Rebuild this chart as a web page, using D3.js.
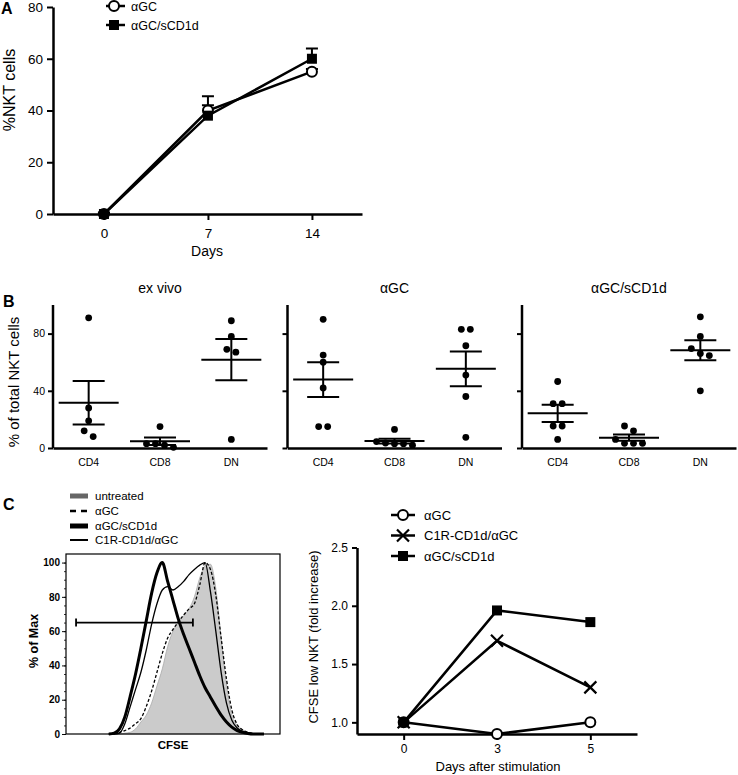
<!DOCTYPE html>
<html>
<head>
<meta charset="utf-8">
<script src="https://cdn.jsdelivr.net/npm/d3@7"></script>
<style>
  body { margin: 0; background: #fff; }
  svg { display: block; font-family: "Liberation Sans", Arial, Helvetica, sans-serif; }
</style>
</head>
<body>
<svg width="738" height="775"></svg>
<script>
// ---- Panel A: %NKT cells over days
const daysA = [0, 7, 14];
const aGCA = [0, 40, 55];
const aGCAerr = [0.5, 5.5, 1];
const sCD1dA = [0, 38, 60];
const sCD1dAerr = [0.5, 4, 4];
const yTicksA = [0, 20, 40, 60, 80];

// ---- Panel B: subsets, one array per cell type (CD4, CD8, DN)
const cellTypes = ["CD4", "CD8", "DN"];
const groupsB = ["ex vivo", "αGC", "αGC/sCD1d"];
const exVivoB = [[91, 28, 19, 12, 8], [15, 3, 2, 3, 0.5], [89, 78, 69, 67, 6]];
const aGCB = [[90, 65, 60, 42, 15, 15], [13, 4.5, 3.5, 2, 3, 3], [83, 83, 71.5, 51, 36, 7.5]];
const sCD1dB = [[46.5, 31, 31, 15.4, 15.4, 6], [15.4, 12, 6, 3.3, 3.3, 3.3], [91.7, 78, 69.5, 66, 64.6, 40]];
const yTicksB = [0, 40, 80];

// ---- Panel C left: CFSE histograms (% of max at each CFSE bin)
const cfseBins = [20, 22.5, 25, 27.5, 30, 32.5, 35, 37.5, 40, 42.5, 45, 47.5, 50, 52.5, 55,
                  57.5, 60, 62.5, 65, 67.5, 70, 72.5, 75, 77.5, 80, 82.5, 85, 87.5, 90, 92.5];
const untreatedH = [0, 0, 0, 0.5, 1, 3, 7, 11, 18, 28, 38, 51, 60, 65, 69,
                    73, 80, 91, 98, 99, 85, 56, 29, 11, 5, 2.5, 1, 0, 0, 0];
const aGCH = [0, 0.3, 1, 2, 3.5, 6, 9, 16, 25, 36, 47, 56, 61, 65.5, 69.5,
              73, 76, 87, 100, 96, 81, 56, 32, 14, 5.5, 2.5, 1, 0.3, 0, 0];
const sCD1dH = [0, 0.5, 3, 10, 22, 35, 50, 66, 82, 94, 100, 89, 78, 67, 58,
                50, 42, 34, 27, 21.5, 16, 11, 7, 4, 2, 1, 0.3, 0, 0, 0];
const c1rH = [0, 0, 0.5, 6, 16, 26, 36, 49, 64, 76, 84, 86, 84, 86, 89,
              93, 96, 98.5, 100, 83, 60, 36, 18, 8, 3.5, 1.5, 0.5, 0, 0, 0];
const gateRange = [4.7, 59.3];
const gateLevel = 65;
const yTicksH = [0, 20, 40, 60, 80, 100];

// ---- Panel C right: fold increase of CFSE low NKT
const daysC = ["0", "3", "5"];
const aGCC = [1.0, 0.9, 1.0];
const c1rC = [1.0, 1.7, 1.3];
const sCD1dC = [1.0, 1.96, 1.86];
const yTicksC = [1.0, 1.5, 2.0, 2.5];

const svg = d3.select("svg");

// marker shapes used in A and C
function drawMarker(g, type, x, y) {
  if (type === "circle") {
    g.append("circle").attr("cx", x).attr("cy", y).attr("r", 5)
      .attr("fill", "#fff").attr("stroke", "#000").attr("stroke-width", 2);
  } else if (type === "square") {
    g.append("rect").attr("x", x - 5).attr("y", y - 5).attr("width", 10).attr("height", 10)
      .attr("fill", "#000");
  } else if (type === "cross") {
    g.append("path").attr("d", `M${x-6},${y-6}L${x+6},${y+6}M${x-6},${y+6}L${x+6},${y-6}`)
      .attr("stroke", "#000").attr("stroke-width", 2.2);
  }
}

function styleAxis(ax, fontSize, width) {
  ax.select(".domain").attr("stroke", "#000").attr("stroke-width", width);
  ax.selectAll(".tick line").attr("stroke", "#000").attr("stroke-width", width * 0.8);
  ax.selectAll(".tick text").attr("fill", "#000").style("font-size", fontSize + "px")
    .style("font-family", "inherit");
}

// ================= Panel A =================
const gA = svg.append("g");
const xA = d3.scaleLinear().domain([-3.43, 17.37]).range([53, 362]);
const yA = d3.scaleLinear().domain([0, 80]).range([214, 7]);

const axYA = gA.append("g").attr("transform", "translate(53,0)")
  .call(d3.axisLeft(yA).tickValues(yTicksA).tickSize(6).tickPadding(4).tickSizeOuter(0));
styleAxis(axYA, 13.5, 2.5);
const axXA = gA.append("g").attr("transform", "translate(0,214)")
  .call(d3.axisBottom(xA).tickValues(daysA).tickSize(6).tickPadding(8).tickSizeOuter(0));
styleAxis(axXA, 13.5, 2.5);

gA.append("text").attr("x", 207).attr("y", 256).attr("text-anchor", "middle")
  .style("font-size", "14px").text("Days");
gA.append("text").attr("transform", "translate(15,90) rotate(-90)").attr("text-anchor", "middle")
  .style("font-size", "16px").text("%NKT cells");
gA.append("text").attr("x", 1).attr("y", 14).style("font-size", "16px").style("font-weight", "bold").text("A");

const lineA = d3.line().x((d, i) => xA(daysA[i])).y(d => yA(d));
const seriesA = [
  { vals: aGCA, err: aGCAerr, type: "circle" },
  { vals: sCD1dA, err: sCD1dAerr, type: "square" }
];
seriesA.forEach(s => {
  gA.append("path").attr("d", lineA(s.vals)).attr("fill", "none")
    .attr("stroke", "#000").attr("stroke-width", 2.5);
  s.vals.forEach((v, i) => {
    const x = xA(daysA[i]);
    gA.append("path").attr("d", `M${x},${yA(v)}V${yA(v + s.err[i])}M${x-6},${yA(v + s.err[i])}H${x+6}`)
      .attr("stroke", "#000").attr("stroke-width", 2).attr("fill", "none");
  });
});
seriesA.forEach(s => s.vals.forEach((v, i) => drawMarker(gA, s.type, xA(daysA[i]), yA(v))));

// legend A
[["circle", "αGC", 6], ["square", "αGC/sCD1d", 25]].forEach(([type, label, y]) => {
  gA.append("line").attr("x1", 106).attr("x2", 125).attr("y1", y).attr("y2", y)
    .attr("stroke", "#000").attr("stroke-width", 2.5);
  drawMarker(gA, type, 114, y);
  gA.append("text").attr("x", 131).attr("y", y + 4.5).style("font-size", "12.5px").text(label);
});

// ================= Panel B =================
const gB = svg.append("g");
const dataB = [exVivoB, aGCB, sCD1dB];
const yB = d3.scaleLinear().domain([0, 100]).range([448, 305]);

// spread points of similar value side by side, like a scatter dot plot
function dodge(vals) {
  const order = vals.map((v, i) => i).sort((a, b) => vals[b] - vals[a]);
  const off = new Array(vals.length).fill(0);
  let cluster = [order[0]];
  const flush = () => {
    const n = cluster.length;
    cluster.forEach((k, j) => off[k] = j - (n - 1) / 2);
  };
  for (let i = 1; i < order.length; i++) {
    const prev = cluster[cluster.length - 1];
    if (yB(vals[order[i]]) - yB(vals[prev]) < 7) cluster.push(order[i]);
    else { flush(); cluster = [order[i]]; }
  }
  flush();
  return off;
}

groupsB.forEach((name, gi) => {
  const x0 = 53 + gi * 234.5;
  const xB = d3.scaleBand().domain(cellTypes).range([x0, x0 + 214]);

  const axY = gB.append("g").attr("transform", `translate(${x0},0)`)
    .call(d3.axisLeft(yB).tickValues(yTicksB).tickSize(5).tickPadding(3).tickSizeOuter(0));
  styleAxis(axY, 10.5, 2.5);
  if (gi > 0) axY.selectAll(".tick text").remove();
  axY.select(".domain").attr("d", `M0,${yB(0)}V${yB(100)}`);

  const axX = gB.append("g").attr("transform", `translate(0,${yB(0)})`)
    .call(d3.axisBottom(xB).tickSize(0).tickPadding(11).tickSizeOuter(0));
  styleAxis(axX, 10.5, 2.5);

  gB.append("text").attr("x", x0 + 107).attr("y", 293).attr("text-anchor", "middle")
    .style("font-size", "14px").text(name);

  dataB[gi].forEach((vals, ci) => {
    const cx = xB(cellTypes[ci]) + xB.bandwidth() / 2;
    const off = dodge(vals);
    vals.forEach((v, k) => {
      gB.append("circle").attr("cx", cx + off[k] * 9).attr("cy", yB(v)).attr("r", 3.4).attr("fill", "#000");
    });
    const m = d3.mean(vals);
    const sem = d3.deviation(vals) / Math.sqrt(vals.length);
    gB.append("path")
      .attr("d", `M${cx-30},${yB(m)}H${cx+30}M${cx},${yB(m-sem)}V${yB(m+sem)}` +
                 `M${cx-16},${yB(m-sem)}H${cx+16}M${cx-16},${yB(m+sem)}H${cx+16}`)
      .attr("stroke", "#000").attr("stroke-width", 2).attr("fill", "none");
  });
});
gB.append("text").attr("transform", "translate(19,382) rotate(-90)").attr("text-anchor", "middle")
  .style("font-size", "15px").text("% of total NKT cells");
gB.append("text").attr("x", 3).attr("y", 307).style("font-size", "16px").style("font-weight", "bold").text("B");

// ================= Panel C left (histogram) =================
const gH = svg.append("g");
const xH = d3.scaleLinear().domain([0, 100]).range([66, 280]);
const yH = d3.scaleLinear().domain([0, 105]).range([734, 554]);

const area = d3.area().x((d, i) => xH(cfseBins[i])).y0(yH(0)).y1(d => yH(d)).curve(d3.curveMonotoneX);
const lineH = d3.line().x((d, i) => xH(cfseBins[i])).y(d => yH(d)).curve(d3.curveMonotoneX);

gH.append("path").attr("d", area(untreatedH)).attr("fill", "#cbcbcb").attr("stroke", "#a8a8a8").attr("stroke-width", 0.8);
gH.append("path").attr("d", lineH(aGCH)).attr("fill", "none").attr("stroke", "#000")
  .attr("stroke-width", 1.3).attr("stroke-dasharray", "3,2");
gH.append("path").attr("d", lineH(c1rH)).attr("fill", "none").attr("stroke", "#000").attr("stroke-width", 1.3);
gH.append("path").attr("d", lineH(sCD1dH)).attr("fill", "none").attr("stroke", "#000").attr("stroke-width", 3);

gH.append("rect").attr("x", 66).attr("y", 554).attr("width", 214).attr("height", 180)
  .attr("fill", "none").attr("stroke", "#000").attr("stroke-width", 1.2);

const minorH = d3.range(0, 101, 5);
const axMinor = gH.append("g").attr("transform", "translate(66,0)")
  .call(d3.axisLeft(yH).tickValues(minorH).tickSize(2).tickFormat("").tickSizeOuter(0));
styleAxis(axMinor, 10, 1);
const axH = gH.append("g").attr("transform", "translate(66,0)")
  .call(d3.axisLeft(yH).tickValues(yTicksH).tickSize(4).tickPadding(2).tickSizeOuter(0));
styleAxis(axH, 10, 1.2);
axH.selectAll(".tick text").style("font-weight", "bold");
axH.select(".domain").remove();
axMinor.select(".domain").remove();

// gate bar
const gy = yH(gateLevel);
gH.append("path")
  .attr("d", `M${xH(gateRange[0])},${gy}H${xH(gateRange[1])}M${xH(gateRange[0])},${gy-4}V${gy+4}M${xH(gateRange[1])},${gy-4}V${gy+4}`)
  .attr("stroke", "#000").attr("stroke-width", 1.8).attr("fill", "none");

gH.append("text").attr("x", 173).attr("y", 749).attr("text-anchor", "middle")
  .style("font-size", "11.5px").style("font-weight", "bold").text("CFSE");
gH.append("text").attr("transform", "translate(38,641) rotate(-90)").attr("text-anchor", "middle")
  .style("font-size", "12.5px").style("font-weight", "bold").text("% of Max");
gH.append("text").attr("x", 3).attr("y", 510).style("font-size", "16px").style("font-weight", "bold").text("C");

// legend for histograms
const legH = [
  { label: "untreated", y: 496, color: "#666", width: 5, dash: null },
  { label: "αGC", y: 511, color: "#000", width: 2.5, dash: "6,5" },
  { label: "αGC/sCD1d", y: 526, color: "#000", width: 5, dash: null },
  { label: "C1R-CD1d/αGC", y: 540, color: "#000", width: 2, dash: null }
];
legH.forEach(d => {
  gH.append("line").attr("x1", 70).attr("x2", 88).attr("y1", d.y).attr("y2", d.y)
    .attr("stroke", d.color).attr("stroke-width", d.width).attr("stroke-dasharray", d.dash);
  gH.append("text").attr("x", 95).attr("y", d.y + 4).style("font-size", "11.5px").text(d.label);
});

// ================= Panel C right =================
const gC = svg.append("g");
const xC = d3.scalePoint().domain(daysC).range([357, 637]).padding(0.5);
const yC = d3.scaleLinear().domain([0.9, 2.5]).range([734, 547.5]);

const axYC = gC.append("g").attr("transform", "translate(357,0)")
  .call(d3.axisLeft(yC).tickValues(yTicksC).tickFormat(d3.format(".1f")).tickSize(5).tickPadding(4).tickSizeOuter(0));
styleAxis(axYC, 12, 2.5);
const axXC = gC.append("g").attr("transform", "translate(0,734)")
  .call(d3.axisBottom(xC).tickSize(6).tickPadding(4).tickSizeOuter(0));
styleAxis(axXC, 12, 2.5);

gC.append("text").attr("x", 498).attr("y", 771).attr("text-anchor", "middle")
  .style("font-size", "13px").text("Days after stimulation");
gC.append("text").attr("transform", "translate(318,637) rotate(-90)").attr("text-anchor", "middle")
  .style("font-size", "13px").text("CFSE low NKT (fold increase)");

const seriesC = [
  { vals: aGCC, type: "circle", label: "αGC" },
  { vals: c1rC, type: "cross", label: "C1R-CD1d/αGC" },
  { vals: sCD1dC, type: "square", label: "αGC/sCD1d" }
];
const lineC = d3.line().x((d, i) => xC(daysC[i])).y(d => yC(d));
seriesC.forEach(s => gC.append("path").attr("d", lineC(s.vals)).attr("fill", "none")
  .attr("stroke", "#000").attr("stroke-width", 2.5));
seriesC.forEach(s => s.vals.forEach((v, i) => drawMarker(gC, s.type, xC(daysC[i]), yC(v))));

seriesC.forEach((s, i) => {
  const y = 515 + i * 20.5;
  gC.append("line").attr("x1", 391).attr("x2", 415).attr("y1", y).attr("y2", y)
    .attr("stroke", "#000").attr("stroke-width", 2.5);
  drawMarker(gC, s.type, 403, y);
  gC.append("text").attr("x", 424).attr("y", y + 4.5).style("font-size", "13px").text(s.label);
});
</script>
</body>
</html>
